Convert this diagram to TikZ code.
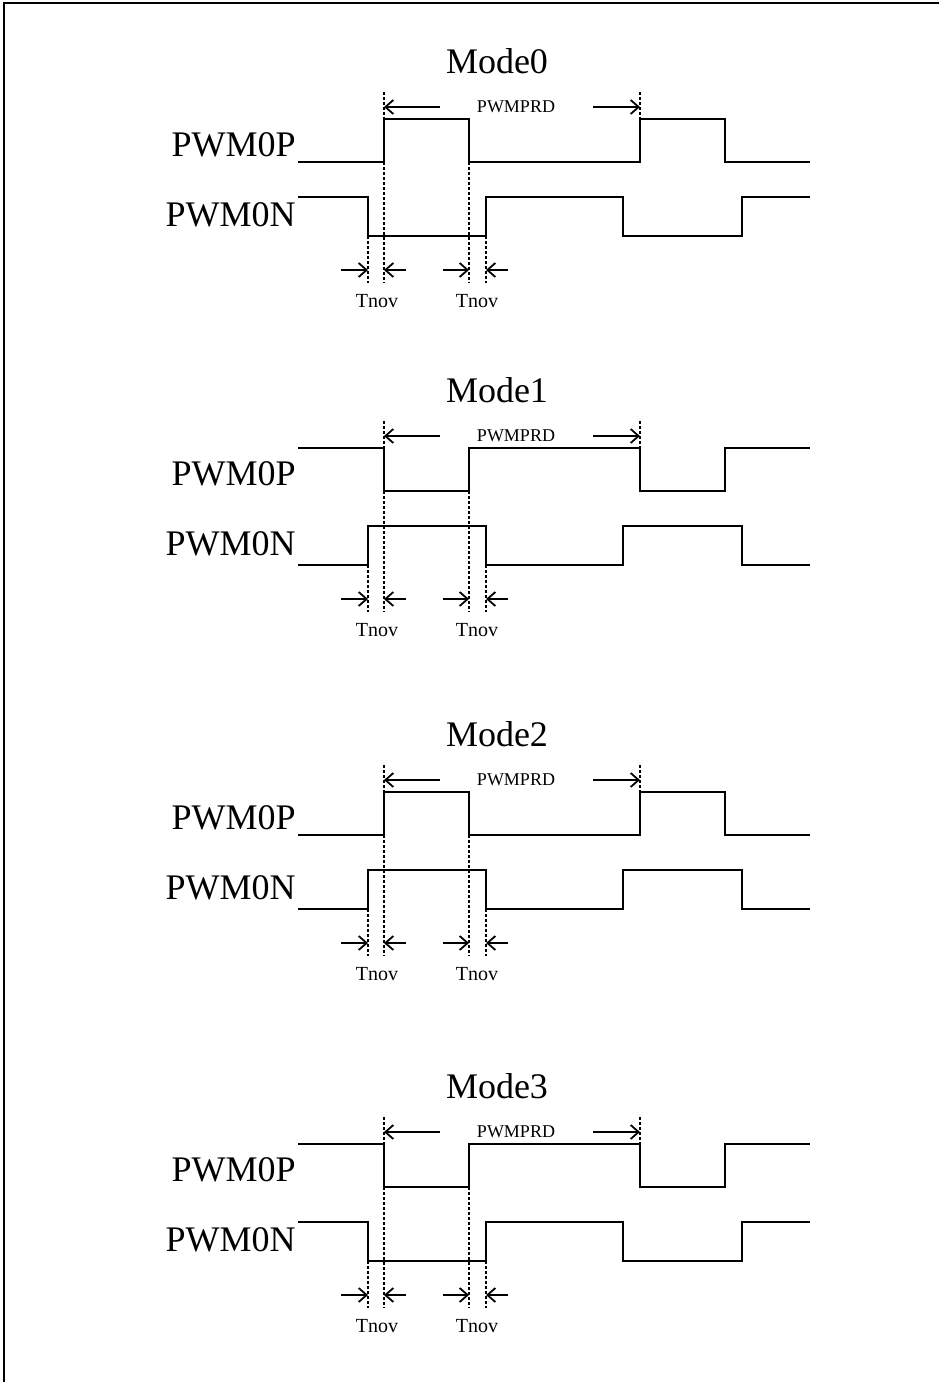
\documentclass[tikz,border=0pt]{standalone}
\usepackage{fontspec}
\setmainfont{Liberation Serif}
\usetikzlibrary{arrows.meta}

\begin{document}
\begin{tikzpicture}[x=0.5pt, y=-0.5pt,
    every node/.style={font=\fontsize{18}{20}\selectfont, inner sep=0pt},
    small/.style={font=\fontsize{9}{10}\selectfont},
    tn/.style={font=\fontsize{10}{11}\selectfont},
    sig/.style={line width=1pt},
    guide/.style={line width=0.6pt, dash pattern=on 1.5pt off 1pt},
    dim/.style={line width=0.9pt, -{Straight Barb[length=4pt,width=7pt]}}]
\useasboundingbox (0,0) rectangle (939,1382);

% Frame
\draw[line width=1pt] (4,1382) -- (4,3) -- (939,3);

% Mode0
\begin{scope}
	\node[anchor=base] (mode0) at (497,73) {Mode0};
	\node[anchor=base east] (p0) at (296,156) {PWM0P};
	\node[anchor=base east] (n0) at (296,226) {PWM0N};
	\draw[sig] (298,162) -| (384,119) -| (469,162) -| (640,119) -| (725,162) -- (810,162);
	\draw[sig] (298,197) -| (368,236) -| (486,197) -| (623,236) -| (742,197) -- (810,197);
	\draw[guide] (384,92) -- (384,283) (469,162) -- (469,283) (640,92) -- (640,119)
		(368,236) -- (368,283) (486,236) -- (486,283);
	\node[small, anchor=base] (prd0) at (516,112) {PWMPRD};
	\draw[dim] (440,107) -- (384,107);
	\draw[dim] (593,107) -- (640,107);
	\draw[dim] (341,270) -- (368,270);
	\draw[dim] (406,270) -- (384,270);
	\draw[dim] (443,270) -- (469,270);
	\draw[dim] (508,270) -- (486,270);
	\node[tn, anchor=base] (tnov0a) at (377,307) {Tnov};
	\node[tn, anchor=base] (tnov0b) at (477,307) {Tnov};
\end{scope}

% Mode1
\begin{scope}[shift={(0,329)}]
	\node[anchor=base] (mode1) at (497,73) {Mode1};
	\node[anchor=base east] (p1) at (296,156) {PWM0P};
	\node[anchor=base east] (n1) at (296,226) {PWM0N};
	\draw[sig] (298,119) -| (384,162) -| (469,119) -| (640,162) -| (725,119) -- (810,119);
	\draw[sig] (298,236) -| (368,197) -| (486,236) -| (623,197) -| (742,236) -- (810,236);
	\draw[guide] (384,92) -- (384,283) (469,162) -- (469,283) (640,92) -- (640,119)
		(368,236) -- (368,283) (486,236) -- (486,283);
	\node[small, anchor=base] (prd1) at (516,112) {PWMPRD};
	\draw[dim] (440,107) -- (384,107);
	\draw[dim] (593,107) -- (640,107);
	\draw[dim] (341,270) -- (368,270);
	\draw[dim] (406,270) -- (384,270);
	\draw[dim] (443,270) -- (469,270);
	\draw[dim] (508,270) -- (486,270);
	\node[tn, anchor=base] (tnov1a) at (377,307) {Tnov};
	\node[tn, anchor=base] (tnov1b) at (477,307) {Tnov};
\end{scope}

% Mode2
\begin{scope}[shift={(0,673)}]
	\node[anchor=base] (mode2) at (497,73) {Mode2};
	\node[anchor=base east] (p2) at (296,156) {PWM0P};
	\node[anchor=base east] (n2) at (296,226) {PWM0N};
	\draw[sig] (298,162) -| (384,119) -| (469,162) -| (640,119) -| (725,162) -- (810,162);
	\draw[sig] (298,236) -| (368,197) -| (486,236) -| (623,197) -| (742,236) -- (810,236);
	\draw[guide] (384,92) -- (384,283) (469,162) -- (469,283) (640,92) -- (640,119)
		(368,236) -- (368,283) (486,236) -- (486,283);
	\node[small, anchor=base] (prd2) at (516,112) {PWMPRD};
	\draw[dim] (440,107) -- (384,107);
	\draw[dim] (593,107) -- (640,107);
	\draw[dim] (341,270) -- (368,270);
	\draw[dim] (406,270) -- (384,270);
	\draw[dim] (443,270) -- (469,270);
	\draw[dim] (508,270) -- (486,270);
	\node[tn, anchor=base] (tnov2a) at (377,307) {Tnov};
	\node[tn, anchor=base] (tnov2b) at (477,307) {Tnov};
\end{scope}

% Mode3
\begin{scope}[shift={(0,1025)}]
	\node[anchor=base] (mode3) at (497,73) {Mode3};
	\node[anchor=base east] (p3) at (296,156) {PWM0P};
	\node[anchor=base east] (n3) at (296,226) {PWM0N};
	\draw[sig] (298,119) -| (384,162) -| (469,119) -| (640,162) -| (725,119) -- (810,119);
	\draw[sig] (298,197) -| (368,236) -| (486,197) -| (623,236) -| (742,197) -- (810,197);
	\draw[guide] (384,92) -- (384,283) (469,162) -- (469,283) (640,92) -- (640,119)
		(368,236) -- (368,283) (486,236) -- (486,283);
	\node[small, anchor=base] (prd3) at (516,112) {PWMPRD};
	\draw[dim] (440,107) -- (384,107);
	\draw[dim] (593,107) -- (640,107);
	\draw[dim] (341,270) -- (368,270);
	\draw[dim] (406,270) -- (384,270);
	\draw[dim] (443,270) -- (469,270);
	\draw[dim] (508,270) -- (486,270);
	\node[tn, anchor=base] (tnov3a) at (377,307) {Tnov};
	\node[tn, anchor=base] (tnov3b) at (477,307) {Tnov};
\end{scope}
\end{tikzpicture}
\end{document}
